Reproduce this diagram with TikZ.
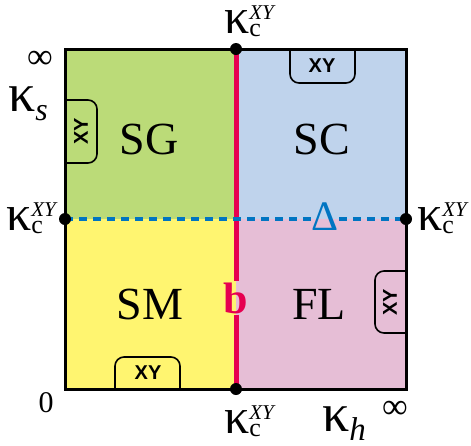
\documentclass[tikz,border=0pt]{standalone}
\usepackage{fontspec}
\setmainfont{Liberation Serif}
\newfontfamily\tabfont{Liberation Sans}
\definecolor{cgreen}{RGB}{187,219,120}
\definecolor{cblue}{RGB}{191,211,236}
\definecolor{cyellow}{RGB}{255,245,112}
\definecolor{cpink}{RGB}{230,190,214}
\definecolor{cred}{RGB}{230,0,80}
\definecolor{cdot}{RGB}{0,117,194}
\newcommand{\kcXY}{{\fontsize{50}{50}\selectfont κ}\rlap{\raisebox{14pt}{\fontsize{21}{21}\selectfont\textit{XY}}}\raisebox{-3pt}{\fontsize{26}{26}\selectfont c}}
\tikzset{
  phase/.style={font=\fontsize{46}{46}\selectfont, inner sep=0pt},
  tablbl/.style={font=\tabfont\bfseries\fontsize{20}{20}\selectfont, inner sep=0pt},
  tabline/.style={draw=black, line width=1.6pt, rounded corners=9pt},
  axlbl/.style={inner sep=0pt, anchor=base west},
  blackdot/.style={circle, fill=black, inner sep=0pt, minimum size=12pt},
  border/.style={draw=black, line width=3pt},
  redline/.style={cred, line width=5pt},
  dotline/.style={cdot, line width=4.5pt, dash pattern=on 8pt off 6pt},
}
\begin{document}
\begin{tikzpicture}[x=1pt,y=-1pt]
\useasboundingbox (0,0) rectangle (471,445);
% regions
\fill[cgreen] (65,49) rectangle (236,219);
\fill[cblue] (236,49) rectangle (406,219);
\fill[cyellow] (65,219) rectangle (236,389);
\fill[cpink] (236,219) rectangle (406,389);
% tabs
\draw[tabline] (290,49) -- (290,83) -- (355,83) -- (355,49);
\draw[tabline] (65,100) -- (97,100) -- (97,163) -- (65,163);
\draw[tabline] (115,389) -- (115,357) -- (180,357) -- (180,389);
\draw[tabline] (406,271) -- (375,271) -- (375,333) -- (406,333);
\node[tablbl] (t1) at (322,66) {XY};
\node[tablbl, rotate=90] (t2) at (81,131) {XY};
\node[tablbl] (t3) at (148,373) {XY};
\node[tablbl, rotate=90] (t4) at (390,302) {XY};
% phase labels
\node[phase] (SG) at (149,139) {SG};
\node[phase] (SC) at (322,139) {SC};
\node[phase] (SM) at (150,304) {SM};
\node[phase] (FL) at (319,304) {FL};
\node[inner sep=1pt, text=cred, font=\bfseries\fontsize{44}{44}\selectfont] (b) at (236,298) {b};
\node[inner sep=0.5pt, text=cdot, font=\fontsize{42}{42}\selectfont] (D) at (325,217) {Δ};
% border
\draw[border] (65,49) rectangle (406,389);
% dot positions
\coordinate (top) at (236,49);
\coordinate (bot) at (236,389);
\coordinate (lft) at (65,219);
\coordinate (rgt) at (406,219);
% lines
\draw[redline] (top) -- (b.north);
\draw[redline] (b.south) -- (bot);
\draw[dotline] (lft) -- (lft -| D.west);
\draw[dotline] (rgt -| D.east) -- (rgt);
% dots
\node[blackdot] (dtop) at (top) {};
\node[blackdot] (dbot) at (bot) {};
\node[blackdot] (dlft) at (lft) {};
\node[blackdot] (drgt) at (rgt) {};
% axis labels
\node[axlbl] (ktop) at (224,33) {\kcXY};
\node[axlbl] (klft) at (6,230) {\kcXY};
\node[axlbl] (krgt) at (417,230) {\kcXY};
\node[axlbl] (kbot) at (224,433) {\kcXY};
\node[axlbl] (ks) at (8,111) {{\fontsize{54}{54}\selectfont κ}\raisebox{-9pt}{\fontsize{32}{32}\selectfont\textit{s}}};
\node[axlbl] (kh) at (322,431) {{\fontsize{54}{54}\selectfont κ}\raisebox{-9pt}{\fontsize{33}{33}\selectfont\textit{h}}};
\node[inner sep=0pt, font=\fontsize{36}{36}\selectfont] (inf1) at (40,60) {∞};
\node[inner sep=0pt, font=\fontsize{36}{36}\selectfont] (inf2) at (395,410) {∞};
\node[inner sep=0pt, font=\fontsize{30}{30}\selectfont] (zero) at (46,403) {0};
\end{tikzpicture}
\end{document}
